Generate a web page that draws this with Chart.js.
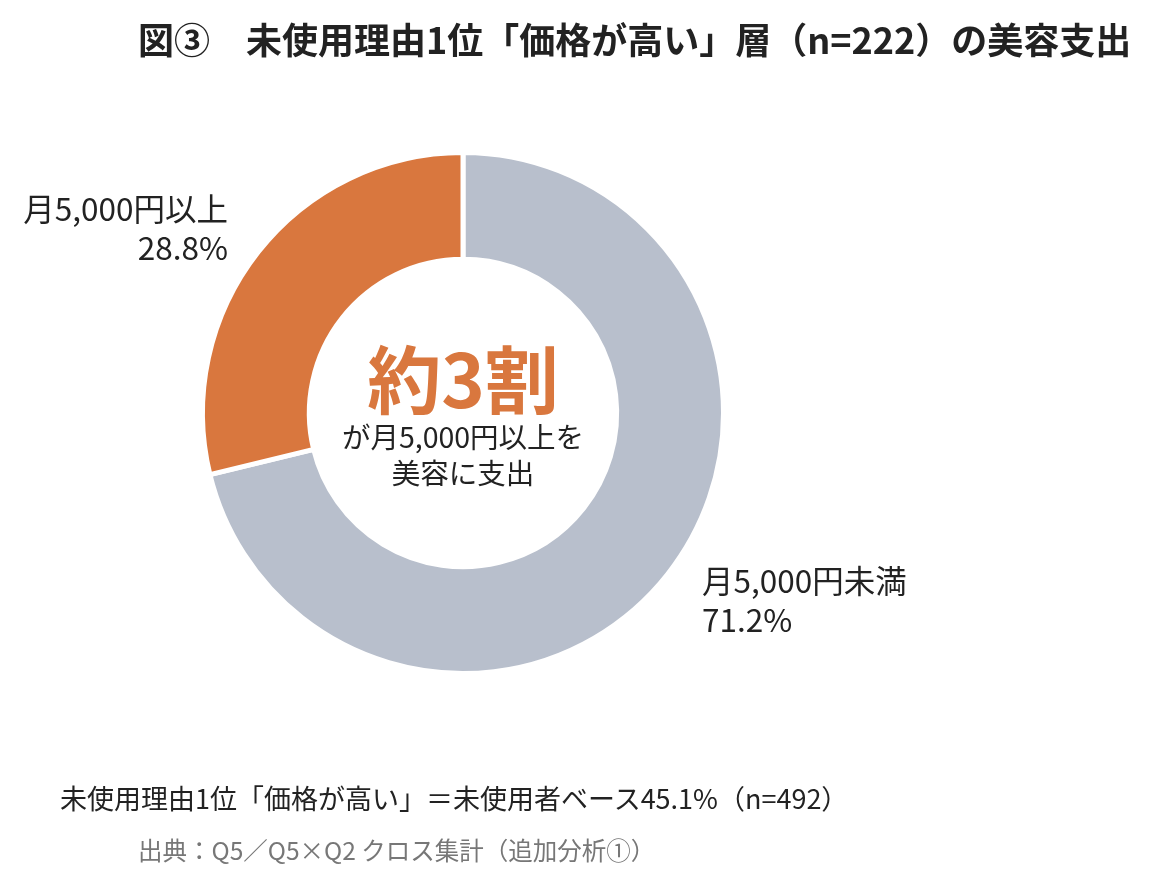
<!DOCTYPE html>
<html lang="ja">
<head>
<meta charset="utf-8">
<script src="https://cdn.jsdelivr.net/npm/chart.js@4.4.1/dist/chart.umd.min.js"></script>
<style>
  html, body { margin: 0; padding: 0; background: #fff; }
  body { width: 1154px; height: 883px; position: relative; overflow: hidden;
         font-family: "Noto Sans CJK JP", "Noto Sans", sans-serif; color: #222; }
  #wrap { position: absolute; left: 0; top: 0; width: 1154px; height: 883px; }
  .txt { position: absolute; white-space: nowrap; }
  #title { left: 138px; top: 12px; font-size: 36px; font-weight: 700; color: #222; }
  #center { left: 263px; top: 330px; width: 400px; text-align: center; }
  #big { font-size: 74px; font-weight: 700; color: #d9773e; line-height: 92px; }
  #sub { font-size: 28.5px; line-height: 36px; margin-top: -4px; }
  .lbl { font-size: 31.5px; line-height: 39px; }
  #lblA { right: 926px; top: 188px; text-align: right; }
  #lblB { left: 702px; top: 560px; text-align: left; }
  #note { left: 60px; top: 778px; font-size: 27px; }
  #src { left: 138px; top: 832px; font-size: 24.5px; color: #777; }
</style>
</head>
<body>
<div id="wrap"><canvas id="chartCanvas" width="1154" height="883"></canvas></div>
<div class="txt" id="title">図③　未使用理由1位「価格が高い」層（n=222）の美容支出</div>
<div class="txt" id="center">
  <div id="big">約3割</div>
  <div id="sub">が月5,000円以上を<br>美容に支出</div>
</div>
<div class="txt lbl" id="lblB"></div>
<div class="txt lbl" id="lblA"></div>
<div class="txt" id="note">未使用理由1位「価格が高い」＝未使用者ベース45.1%（n=492）</div>
<div class="txt" id="src">出典：Q5／Q5×Q2 クロス集計（追加分析①）</div>
<script>
const categories = ['月5,000円未満', '月5,000円以上'];
const shares = [71.2, 28.8];
const colors = ['#b8bfcc', '#d9773e'];

// slice labels built from the data
document.getElementById('lblB').innerHTML = categories[0] + '<br>' + shares[0].toFixed(1) + '%';
document.getElementById('lblA').innerHTML = categories[1] + '<br>' + shares[1].toFixed(1) + '%';

const ctx = document.getElementById('chartCanvas').getContext('2d');

const chart = new Chart(ctx, {
    type: 'doughnut',
    data: {
        labels: categories,
        datasets: [{
            data: shares,
            backgroundColor: colors,
            borderColor: '#ffffff',
            borderWidth: 5,
            hoverOffset: 0
        }]
    },
    options: {
        responsive: false,
        animation: false,
        cutout: '59%',
        rotation: 0,
        layout: {
            padding: { left: 200, right: 428, top: 150, bottom: 207 }
        },
        plugins: {
            legend: { display: false },
            tooltip: { enabled: false }
        }
    }
});
</script>
</body>
</html>
